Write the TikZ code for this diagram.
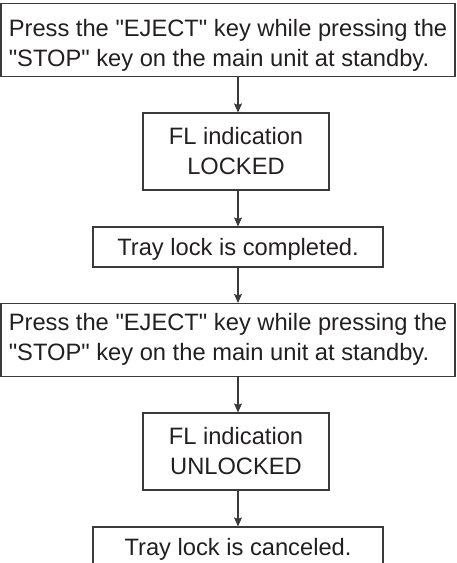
\documentclass[tikz,border=0pt]{standalone}
\usepackage{fontspec}
\setmainfont{Liberation Sans}
\usetikzlibrary{arrows.meta}
\definecolor{ink}{HTML}{231F20}
\definecolor{edge}{HTML}{3A3A3A}
\newcommand{\qq}{\textquotedbl}
\begin{document}
\begin{tikzpicture}[x=1pt,y=1pt,
  box/.style={draw=edge, line width=1.1pt, text=ink, inner sep=0pt, rectangle,
    font=\fontsize{23.7}{30}\selectfont},
  widebox/.style={box, minimum width=454pt, minimum height=73pt, align=left,
    text height=59pt, text depth=5pt},
  widebox2/.style={widebox, text height=47pt},
  midbox/.style={box, minimum width=186pt, minimum height=77pt, align=center,
    text height=52pt, text depth=5pt},
  linebox/.style={box, minimum width=290pt, minimum height=40pt,
    text height=17pt, text depth=0pt},
  flow/.style={draw=edge, line width=1.1pt, -{Stealth[length=9pt,width=8pt,inset=1.5pt]}}]
\useasboundingbox (0,0) rectangle (456,563);
\clip (0,0) rectangle (456,563);
\coordinate (ax) at (238,0);
\node[widebox] (b1) at (228,523) {Press the \qq EJECT\qq{} key while pressing the\\\qq STOP\qq{} key on the main unit at standby.};
\node[midbox] (b2) at (236,411.5) {FL indication\\LOCKED};
\node[linebox] (b3) at (238,316) {Tray lock is completed.};
\node[widebox2] (b4) at (228,223) {Press the \qq EJECT\qq{} key while pressing the\\\qq STOP\qq{} key on the main unit at standby.};
\node[midbox] (b5) at (236,111.5) {FL indication\\UNLOCKED};
\node[linebox] (b6) at (238,16) {Tray lock is canceled.};
\draw[flow] (b1.south -| ax) -- (b2.north -| ax);
\draw[flow] (b2.south -| ax) -- (b3.north -| ax);
\draw[flow] (b3.south -| ax) -- (b4.north -| ax);
\draw[flow] (b4.south -| ax) -- (b5.north -| ax);
\draw[flow] (b5.south -| ax) -- (b6.north -| ax);
\end{tikzpicture}
\end{document}
